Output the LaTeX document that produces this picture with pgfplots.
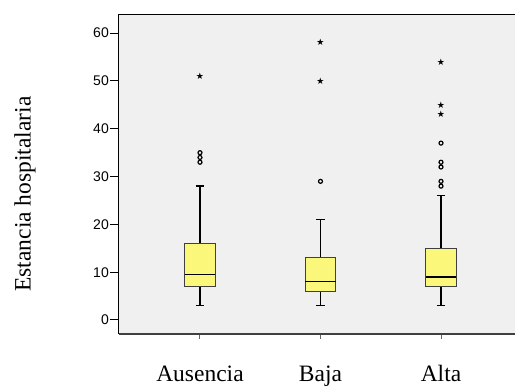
\documentclass[border=0pt]{standalone}
\usepackage{pgfplots}
\pgfplotsset{compat=1.18}
\usepgfplotslibrary{statistics}
\usepackage{fontspec}
\setmainfont{Liberation Serif}
\newfontfamily\sansf{Liberation Sans}
\newfontfamily\dejavu{DejaVu Sans}
\definecolor{boxy}{RGB}{251,247,122}
\definecolor{bgg}{RGB}{240,240,240}
\begin{document}
\begin{tikzpicture}[x=1pt,y=1pt]
\useasboundingbox (0,0) rectangle (515,387);
\node[rotate=90, font=\fontsize{23.5}{28}\selectfont] at (25,193) {Estancia hospitalaria};
\begin{axis}[at={(119pt,53pt)}, anchor=south west, scale only axis,
  width=396pt, height=319pt,
  xmin=0.328, xmax=3.614, ymin=-2.93, ymax=63.8,
  clip=false,
  axis line style={draw=none},
  axis background/.style={fill=bgg},
  ytick={0,10,...,60},
  xtick={1,2,3}, xticklabels={Ausencia,Baja,Alta},
  xtick pos=bottom, ytick pos=left,
  tick align=outside,
  major tick length=9pt,
  x tick style={draw=black!60, line width=1pt, /pgfplots/major tick length=5pt},
  y tick style={draw=black, line width=1pt},
  /pgf/number format/assume math mode=true,
  yticklabel style={font=\sansf\fontsize{14}{14}\selectfont, inner sep=1pt},
  xticklabel style={font=\fontsize{23.5}{28}\selectfont, yshift=-19pt},
  boxplot/draw direction=y,
  boxplot/every box/.style={draw=black!75, fill=boxy, line width=1pt},
  boxplot/every whisker/.style={black, line width=1.5pt},
  boxplot/every median/.style={black, line width=1.5pt},
]
\addplot[boxplot prepared={draw position=1, lower whisker=3, lower quartile=7, median=9.5, upper quartile=16, upper whisker=28, box extend=0.25, whisker extend=0.07}] coordinates {};
\addplot[boxplot prepared={draw position=2, lower whisker=3, lower quartile=6, median=8, upper quartile=13, upper whisker=21, box extend=0.25, whisker extend=0.07}] coordinates {};
\addplot[boxplot prepared={draw position=3, lower whisker=3, lower quartile=7, median=9, upper quartile=15, upper whisker=26, box extend=0.25, whisker extend=0.07}] coordinates {};
\addplot[only marks, mark=o, mark size=2pt, black, line width=1.2pt] coordinates {(1,33)(1,34)(1,35)(2,29)(3,28)(3,29)(3,32)(3,33)(3,37)};
\addplot[only marks, mark=text, text mark={\dejavu\fontsize{9}{9}\selectfont ★}, text mark as node=true] coordinates {(1,51)(2,50)(2,58)(3,43)(3,45)(3,54)};
\draw[black, line width=1pt] (rel axis cs:0,0) -- (rel axis cs:0,1) -- (rel axis cs:1,1);
\draw[black!75, line width=2pt] (rel axis cs:0,0) -- (rel axis cs:1,0);
\end{axis}
\end{tikzpicture}
\end{document}
